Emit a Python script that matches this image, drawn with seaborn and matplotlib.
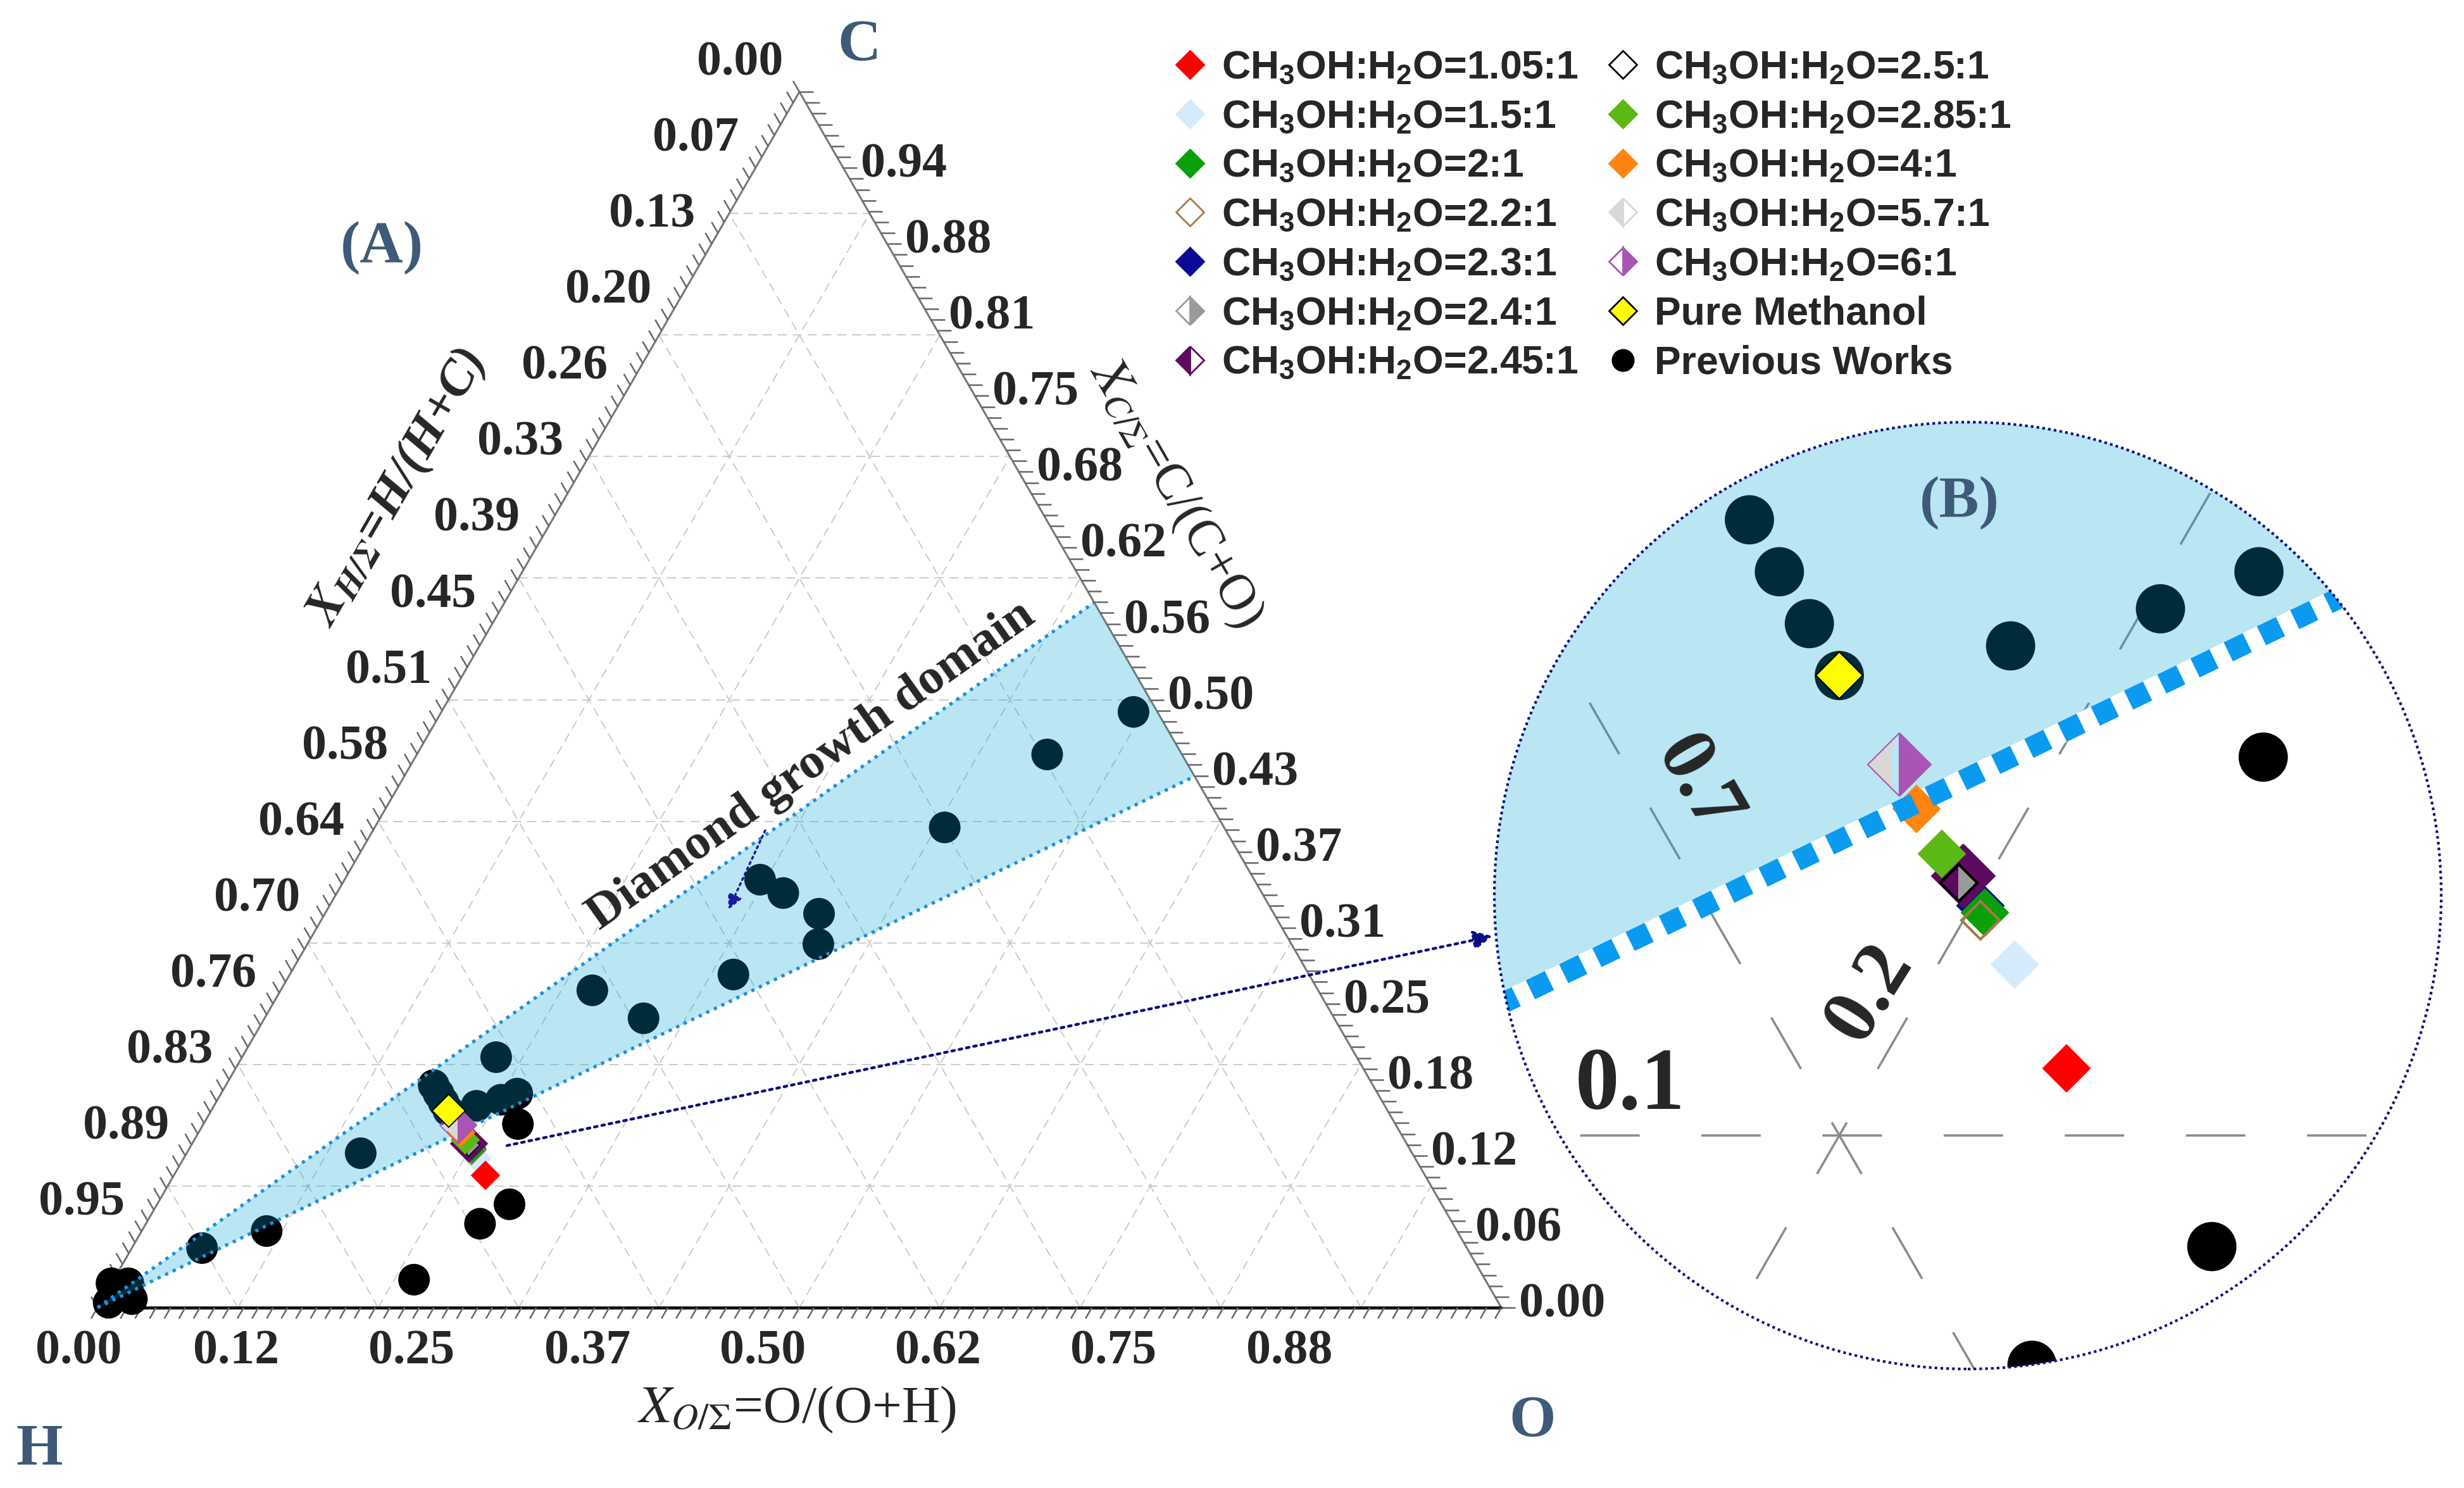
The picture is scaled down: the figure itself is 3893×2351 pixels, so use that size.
import numpy as np
import pandas as pd
import matplotlib
matplotlib.use("Agg")
import matplotlib.pyplot as plt
import seaborn as sns
from matplotlib.lines import Line2D
from matplotlib.patches import Polygon, Circle
from matplotlib.collections import LineCollection

sns.set_style("white")
plt.rcParams['font.family'] = ['Liberation Serif', 'DejaVu Serif']
plt.rcParams['mathtext.fontset'] = 'stix'
# used only by the legend texts (custom math font family)
plt.rcParams['mathtext.rm'] = 'Liberation Sans:bold'
plt.rcParams['mathtext.it'] = 'Liberation Sans:bold'
plt.rcParams['mathtext.bf'] = 'Liberation Sans:bold'

# ---------------- data (atomic fractions C and O, H = 1 - C - O) ----------------
prev_c = [0.020, 0.020, 0.007, 0.004, 0.049, 0.063, 0.127, 0.023, 0.206, 0.261,
          0.238, 0.274, 0.352, 0.341, 0.324, 0.299, 0.395, 0.455, 0.490,
          0.183, 0.176, 0.169, 0.162, 0.166, 0.171, 0.176, 0.151, 0.085, 0.069]
prev_o = [0.000, 0.012, 0.021, 0.006, 0.050, 0.089, 0.124, 0.214, 0.181, 0.222,
          0.270, 0.316, 0.296, 0.318, 0.352, 0.364, 0.406, 0.449, 0.493,
          0.148, 0.155, 0.162, 0.169, 0.187, 0.202, 0.211, 0.224, 0.251, 0.238]

exp_labels = ['1.05:1', '1.5:1', '2:1', '2.2:1', '2.3:1', '2.4:1', '2.45:1',
              '2.5:1', '2.85:1', '4:1', '5.7:1', '6:1', 'Pure Methanol']
exp_c = [0.109, 0.123, 0.130, 0.129, 0.131, 0.134, 0.135, 0.134, 0.138, 0.144, 0.150, 0.150, 0.162]
exp_o = [0.222, 0.209, 0.202, 0.202, 0.201, 0.197, 0.197, 0.197, 0.193, 0.187, 0.181, 0.182, 0.169]

# C/(C+O) where the diamond growth domain meets the C-O side
domain_edge = [0.58, 0.437]

left_labels = ['0.00', '0.07', '0.13', '0.20', '0.26', '0.33', '0.39', '0.45',
               '0.51', '0.58', '0.64', '0.70', '0.76', '0.83', '0.89', '0.95']
right_labels = ['0.94', '0.88', '0.81', '0.75', '0.68', '0.62', '0.56', '0.50',
                '0.43', '0.37', '0.31', '0.25', '0.18', '0.12', '0.06', '0.00']
bottom_labels = ['0.00', '0.12', '0.25', '0.37', '0.50', '0.62', '0.75', '0.88']

# ---------------- styles ----------------
styles = {
    '1.05:1': dict(mfc='#ff0000', mec='#ff0000', fs='full'),
    '1.5:1': dict(mfc='#d5ebfb', mec='#d5ebfb', fs='full'),
    '2:1': dict(mfc='#0aa00a', mec='#0aa00a', fs='full'),
    '2.2:1': dict(mfc='none', mec='#a87848', fs='full'),
    '2.3:1': dict(mfc='#0a0a96', mec='#0a0a96', fs='full'),
    '2.4:1': dict(mfc='#9a9a9a', mec='#9a9a9a', fs='right'),
    '2.45:1': dict(mfc='#5e0a5e', mec='#5e0a5e', fs='left'),
    '2.5:1': dict(mfc='none', mec='black', fs='full'),
    '2.85:1': dict(mfc='#5cb814', mec='#5cb814', fs='full'),
    '4:1': dict(mfc='#ff8410', mec='#ff8410', fs='full'),
    '5.7:1': dict(mfc='#d8d8d8', mec='#d8d8d8', fs='left'),
    '6:1': dict(mfc='#a855b5', mec='#a855b5', fs='right'),
    'Pure Methanol': dict(mfc='#ffff00', mec='black', fs='full'),
}
alt_plot = {'2.45:1': '#5e0a5e'}
size_main = {'2.45:1': 30, '6:1': 30, 'Pure Methanol': 26, '2.4:1': 18, '2.5:1': 18}
size_inset = {'2.45:1': 51, '6:1': 51, '2.2:1': 31, '2.4:1': 30, '2.5:1': 30}
draw_order = ['1.5:1', '1.05:1', '2.3:1', '2:1', '2.2:1', '2.45:1', '2.4:1', '2.5:1',
              '2.85:1', '4:1', '5.7:1', '6:1', 'Pure Methanol']

FILL = '#00a5d7'
EDGE_BLUE = '#1e90dc'
NAVY = '#0c0c80'
SLATE = '#3e5a78'

# ---------------- geometry ----------------
W, H = 3893, 2351
S = 2218.0          # pixels per unit side of the triangle
HX, HY = 154, 2066  # H corner in pixels
SQ3 = np.sqrt(3) / 2


def tern(c, o):
    c = np.asarray(c, float)
    o = np.asarray(o, float)
    return o + c / 2, c * SQ3


def at(px, py):
    return (px - HX) / S, (HY - py) / S


def fpos(px, py):
    return px / W, 1 - py / H


fig = plt.figure(figsize=(W / 100, H / 100), dpi=100)
ax = fig.add_axes([0, 0, 1, 1])

# grid
grid_kw = dict(color='#c8c8c8', lw=1.3, dashes=(8, 5), zorder=1)
for k in np.arange(1, 10) / 10:
    ax.plot([k / 2, 1 - k / 2], [k * SQ3, k * SQ3], **grid_kw)
    ax.plot([k, k + (1 - k) / 2], [0, (1 - k) * SQ3], **grid_kw)
    ax.plot([1 - k, (1 - k) / 2], [0, (1 - k) * SQ3], **grid_kw)

# edges
ax.plot([0, 0.5], [0, SQ3], color='#777777', lw=2.2, zorder=2)
ax.plot([0.5, 1], [SQ3, 0], color='#777777', lw=2.2, zorder=2)
ax.plot([0, 1], [0, 0], color='#111111', lw=3.5, zorder=2)

# edge ticks
tl = 0.009
segs = []
for t in np.linspace(0, 1, 97):
    segs.append([(t, 0), (t - 0.5 * tl, -SQ3 * tl)])
for t in np.linspace(0, 1, 113):
    x, y = 0.5 + 0.5 * t, SQ3 * (1 - t)
    segs.append([(x, y), (x + 1.1 * tl, y)])
    x, y = 0.5 * (1 - t), SQ3 * (1 - t)
    segs.append([(x, y), (x - 0.5 * tl, y + SQ3 * tl)])
ax.add_collection(LineCollection(segs, colors='#666666', linewidths=1.8, zorder=2))

# tick labels
lab_kw = dict(fontsize=56, fontweight='bold', textcoords='offset pixels', zorder=6)
for i, lab in enumerate(left_labels):
    t = i / 16
    ax.annotate(lab, (0.5 * (1 - t), SQ3 * (1 - t)), xytext=(-26, 45),
                ha='right', va='center', **lab_kw)
for i, lab in enumerate(right_labels):
    t = (i + 1) / 16
    ax.annotate(lab, (0.5 + 0.5 * t, SQ3 * (1 - t)), xytext=(28, 4),
                ha='left', va='center', **lab_kw)
for j, lab in enumerate(bottom_labels):
    ax.annotate(lab, (j / 8, 0), xytext=(-58 if j else -30, -70), ha='center', va='center',
                **lab_kw)

# previous works
prev = pd.DataFrame({'c': prev_c, 'o': prev_o})
prev['x'], prev['y'] = tern(prev['c'], prev['o'])
sns.scatterplot(data=prev, x='x', y='y', ax=ax, color='black', s=36 ** 2,
                edgecolor='none', linewidth=0, zorder=3, legend=False)

# diamond growth domain
dom_x, dom_y = tern(domain_edge, 1 - np.array(domain_edge))
ax.add_patch(Polygon([(0, 0), (dom_x[0], dom_y[0]), (dom_x[1], dom_y[1])],
                     closed=True, facecolor=FILL, alpha=0.27, edgecolor='none', zorder=4))
for xe, ye in zip(dom_x, dom_y):
    ax.plot([0, xe], [0, ye], color=EDGE_BLUE, lw=3.8, linestyle=(0, (1, 1.5)), zorder=5)

# experiments
exp = pd.DataFrame({'label': exp_labels, 'c': exp_c, 'o': exp_o}).set_index('label')
exp['x'], exp['y'] = tern(exp['c'], exp['o'])
for lab in draw_order:
    st = styles[lab]
    ax.plot(exp.loc[lab, 'x'], exp.loc[lab, 'y'], marker='D', linestyle='none',
            markersize=size_main.get(lab, 22), markerfacecolor=st['mfc'],
            markerfacecoloralt=alt_plot.get(lab, 'none'), fillstyle=st['fs'],
            markeredgecolor=st['mec'], markeredgewidth=1.3, zorder=6)

ax.set_xlim(-HX / S, (W - HX) / S)
ax.set_ylim(-(H - HY) / S, HY / S)
ax.axis('off')

# annotations in the main panel
fig.text(*fpos(1282, 1210), 'Diamond growth domain', fontsize=57, fontweight='bold',
         rotation=35.3, ha='center', va='center', rotation_mode='anchor')
ax.annotate('', xy=at(1151, 1437), xytext=at(1209, 1312),
            arrowprops=dict(arrowstyle='-|>', color='#1a1aa0', lw=2.5, linestyle=':',
                            mutation_scale=35, shrinkA=0, shrinkB=0), zorder=7)
ax.annotate('', xy=at(2358, 1479), xytext=at(801, 1810),
            arrowprops=dict(arrowstyle='-|>', color=NAVY, lw=3.2, linestyle=':',
                            mutation_scale=45, shrinkA=0, shrinkB=0), zorder=7)

vt = dict(fontsize=68, fontweight='bold', color=SLATE, ha='center', va='center')
fig.text(*fpos(1358, 72), 'C', **vt)
fig.text(*fpos(62, 2292), 'H', **vt)
fig.text(*fpos(2421, 2247), 'O', **vt)
fig.text(*fpos(603, 392), '(A)', **vt)
fig.text(*fpos(3096, 795), '(B)', **vt)

fig.text(*fpos(628, 772), r'$\mathbfit{X}_{\mathbfit{H/\Sigma}}$=H/(H+C)', fontsize=57,
         fontweight='bold', fontstyle='italic', rotation=60, ha='center', va='center',
         rotation_mode='anchor', math_fontfamily='stix')
fig.text(*fpos(1857, 780), r'$X_{C/\Sigma}$=C/(C+O)', fontsize=58, rotation=-60,
         ha='center', va='center', rotation_mode='anchor', math_fontfamily='stix')
fig.text(*fpos(1259, 2227), r'$X_{O/\Sigma}$=O/(O+H)', fontsize=60,
         ha='center', va='center', math_fontfamily='stix')

# ---------------- magnified inset (B) ----------------
CX, CY, R = 3109, 1415, 748
M = 13530.0                    # inset pixels per unit side
in_center = (0.2650, 0.1146)
in_r = R / M
axi = fig.add_axes([(CX - R) / W, (H - CY - R) / H, 2 * R / W, 2 * R / H])
circ = Circle(in_center, in_r, facecolor='white', edgecolor='none', zorder=0)
axi.add_patch(circ)

# inset grid lines (c=0.1, o=0.2, h=0.7)
ig_kw = dict(color='#8c8c8c', lw=2.6, dashes=(26, 27), zorder=2)
axi.plot([0.05, 0.95], [0.1 * SQ3, 0.1 * SQ3], **ig_kw)
axi.plot([0.2, 0.6], [0, 0.8 * SQ3], **ig_kw)
axi.plot([0.3, 0.15], [0, 0.3 * SQ3], **ig_kw)

sns.scatterplot(data=prev, x='x', y='y', ax=axi, color='black', s=56 ** 2,
                edgecolor='none', linewidth=0, zorder=3, legend=False)
axi.add_patch(Polygon([(0, 0), (dom_x[0], dom_y[0]), (dom_x[1], dom_y[1])],
                      closed=True, facecolor=FILL, alpha=0.27, edgecolor='none', zorder=4))
axi.plot([0, dom_x[1]], [0, dom_y[1]], color='white', lw=24, solid_capstyle='butt', zorder=5)
for lab in draw_order:
    st = styles[lab]
    axi.plot(exp.loc[lab, 'x'], exp.loc[lab, 'y'], marker='D', linestyle='none',
             markersize=size_inset.get(lab, 37.5), markerfacecolor=st['mfc'],
             markerfacecoloralt=alt_plot.get(lab, 'none'), fillstyle=st['fs'],
             markeredgecolor=st['mec'],
             markeredgewidth=3 if lab in ('2.2:1', '2.5:1') else 1.5, zorder=6)
axi.plot([0, dom_x[1]], [0, dom_y[1]], color='#0a9af0', lw=24, dashes=(1, 0.75),
         dash_capstyle='butt', zorder=8)

for art in axi.lines + axi.collections + axi.patches:
    if art is not circ:
        art.set_clip_path(circ)

axi.add_patch(Circle(in_center, in_r, facecolor='none', edgecolor=NAVY, lw=3,
                     linestyle=(0, (1, 1.2)), zorder=20, clip_on=False))
axi.set_xlim(in_center[0] - in_r, in_center[0] + in_r)
axi.set_ylim(in_center[1] - in_r, in_center[1] + in_r)
axi.axis('off')

fig.text(*fpos(2576, 1718), '0.1', fontsize=100, fontweight='bold', ha='center', va='center')
fig.text(*fpos(2955, 1570), '0.2', fontsize=90, fontweight='bold', ha='center', va='center',
         rotation=58, rotation_mode='anchor')
fig.text(*fpos(2680, 1241), '0.7', fontsize=90, fontweight='bold', ha='center', va='center',
         rotation=-60, rotation_mode='anchor')

# ---------------- legend ----------------
handles = []
for lab in exp_labels:
    st = styles[lab]
    handles.append(Line2D([], [], marker='D', linestyle='none', markersize=22,
                          markerfacecolor=st['mfc'] if st['mfc'] != 'none' else 'white',
                          markerfacecoloralt='white', fillstyle=st['fs'],
                          markeredgecolor=st['mec'], markeredgewidth=2))
handles.append(Line2D([], [], marker='o', linestyle='none', markersize=25,
                      markerfacecolor='black', markeredgecolor='black'))
labels = [r'CH$_3$OH:H$_2$O=' + lab for lab in exp_labels[:-1]] + ['Pure Methanol', 'Previous Works']
leg = fig.legend(handles, labels, loc='upper left', bbox_to_anchor=fpos(1849, 78), ncol=2,
                 frameon=False, prop=dict(family='Liberation Sans', weight='bold', size=45),
                 handlelength=1.0, handletextpad=0.3, columnspacing=0.62, labelspacing=0.30,
                 borderpad=0, borderaxespad=0)
for t in leg.get_texts():
    t.set_math_fontfamily('custom')

fig.savefig('out.png', dpi=100, facecolor='white')
